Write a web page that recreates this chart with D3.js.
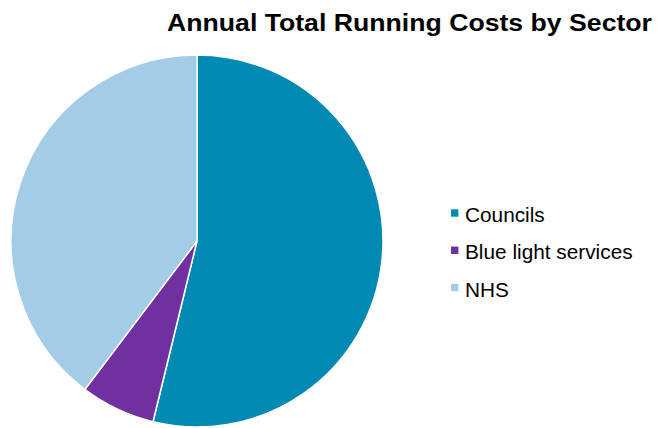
<!DOCTYPE html>
<html>
<head>
<meta charset="utf-8">
<script src="https://cdn.jsdelivr.net/npm/d3@7"></script>
<style>
  body { margin: 0; background: #fff; }
  text { font-family: "Liberation Sans", Arial, sans-serif; }
</style>
</head>
<body>
<div id="chart"></div>
<script>
// sector shares (percent of annual total running costs)
var sectors = ["Councils", "Blue light services", "NHS"];
var shares = [53.8, 6.5, 39.7];
var colours = ["#0089B3", "#7030A0", "#A3CCE6"];

var width = 657, height = 428;

var svg = d3.select("#chart")
  .append("svg")
    .attr("width", width)
    .attr("height", height);

// title
svg.append("text")
  .attr("x", 167)
  .attr("y", 30.5)
  .attr("textLength", 485)
  .attr("lengthAdjust", "spacingAndGlyphs")
  .style("font-weight", "bold")
  .style("font-size", "23px")
  .text("Annual Total Running Costs by Sector");

var radius = 186;
var g = svg.append("g")
  .attr("transform", "translate(197,241)");

var pie = d3.pie().sort(null).value(function(d) { return d; });
var arc = d3.arc().innerRadius(0).outerRadius(radius);
var colour = d3.scaleOrdinal().domain(sectors).range(colours);

g.selectAll("path")
  .data(pie(shares))
  .enter().append("path")
    .attr("d", arc)
    .attr("fill", function(d, i) { return colour(sectors[i]); })
    .attr("stroke", "#fff")
    .attr("stroke-width", 1.5);

// legend
var legend = svg.append("g")
  .attr("transform", "translate(451,0)");

var ly = d3.scalePoint().domain(sectors).range([213, 287.5]);

var item = legend.selectAll("g")
  .data(sectors)
  .enter().append("g")
    .attr("transform", function(d) { return "translate(0," + ly(d) + ")"; });

item.append("rect")
  .attr("x", 0)
  .attr("y", -3.7)
  .attr("width", 7.4)
  .attr("height", 7.4)
  .attr("fill", function(d) { return colour(d); });

item.append("text")
  .attr("x", 14)
  .attr("y", 9)
  .style("font-size", "20.8px")
  .text(function(d) { return d; });
</script>
</body>
</html>
